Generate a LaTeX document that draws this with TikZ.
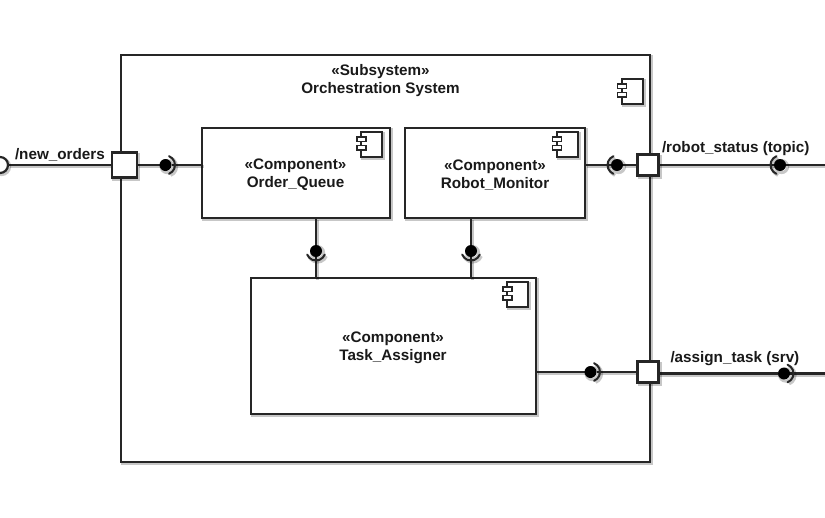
\documentclass[tikz,border=0pt]{standalone}
\usepackage{fontspec}
\setmainfont{Liberation Sans}
\tikzset{
  x=1pt,y=-1pt,
  shd/.style={preaction={draw=black,draw opacity=.22,fill=none,line width=3pt,transform canvas={shift={(1.6pt,-1.6pt)}}}},
  boxn/.style={shd,draw=black!85,fill=white,line width=2.2pt,inner sep=0pt,outer sep=0pt},
  portn/.style={shd,draw=black!85,fill=white,line width=2.2pt,inner sep=0pt,outer sep=0pt},
  ball/.style={shd,circle,fill=black,inner sep=0pt,outer sep=0pt,minimum size=12pt},
  anchorport/.style={inner sep=0pt,outer sep=0pt},
  anchorball/.style={circle,inner sep=0pt,outer sep=0pt,minimum size=12pt},
  lolly/.style={shd,circle,draw=black!85,fill=white,line width=2.2pt,inner sep=0pt,outer sep=0pt,minimum size=16pt},
  conn/.style={shd,draw=black!85,line width=2.2pt},
  sockarc/.style={shd,draw=black!85,line width=2pt,line cap=round},
  iconb/.style={shd,draw=black!85,fill=white,line width=2pt},
  icont/.style={draw=black!85,fill=white,line width=1.5pt},
  txt/.style={inner sep=0pt,outer sep=0pt,align=center,font=\fontsize{15.25}{18}\selectfont\bfseries,text=black!90},
}
\newcommand{\compicon}[2]{%
  \draw[iconb] (#1,#2) rectangle ++(21,25);
  \draw[icont] (#1-4,#2+5) rectangle ++(9,4.5);
  \draw[icont] (#1-4,#2+13.5) rectangle ++(9,4.5);
}
\newcommand{\sockat}[3]{%
  \draw[sockarc] ([shift={(#2:9.5pt)}]#1.center) arc[start angle=#2,end angle=#3,radius=9.5pt];
}
\begin{document}
\begin{tikzpicture}
\path[use as bounding box,fill=white] (0,0) rectangle (825,517);

\node[boxn,minimum width=529pt,minimum height=407pt] (sys) at (385.5,258.5) {};
\node[txt] (systext) at (380.5,80.5) {«Subsystem»\\Orchestration System};
\compicon{621.5}{79}

\node[boxn,minimum width=188pt,minimum height=90pt] (oq) at (296,173) {};
\node[boxn,minimum width=180pt,minimum height=90pt] (rm) at (495,173) {};
\node[boxn,minimum width=285pt,minimum height=136pt] (ta) at (393.5,346) {};
\node[txt] (oqt) at (295.5,175) {«Component»\\Order\_Queue};
\node[txt] (rmt) at (495,175) {«Component»\\Robot\_Monitor};
\node[txt] (tat) at (393,348) {«Component»\\Task\_Assigner};
\compicon{361}{132}
\compicon{556.5}{132}
\compicon{507}{282}

\coordinate (outr) at (825,165);
\coordinate (outa) at (825,373.5);
\coordinate (oqb) at (316,218);
\coordinate (rmb) at (471,218);

% invisible anchors, so that the connectors end on named nodes beneath the symbols
\node[anchorball] (b1) at (165.5,165) {};
\node[anchorball] (b2) at (617,165) {};
\node[anchorball] (b3) at (780,165) {};
\node[anchorball] (b4) at (316,251) {};
\node[anchorball] (b5) at (471,251) {};
\node[anchorball] (b6) at (590.5,372) {};
\node[anchorball] (b7) at (784,373.5) {};
\node[anchorport,minimum size=25pt] (pn) at (124.5,165) {};
\node[anchorport,minimum size=21pt] (pr) at (648,165) {};
\node[anchorport,minimum size=21pt] (pa) at (648,372) {};
\node[anchorball,minimum size=16pt] (lol) at (0,165) {};

\draw[conn] (lol) -- (pn);
\draw[conn] (pn) -- (b1);
\draw[conn] (b1) -- (b1 -| oq.west);
\draw[conn] (b2) -- (b2 -| rm.east);
\draw[conn] (b2) -- (pr);
\draw[conn] (pr) -- (b3);
\draw[conn] (b3) -- (outr);
\draw[conn] (b4) -- (oqb);
\draw[conn] (b4) -- (b4 |- ta.north);
\draw[conn] (b5) -- (rmb);
\draw[conn] (b5) -- (b5 |- ta.north);
\draw[conn] (b6) -- (b6 -| ta.east);
\draw[conn] (b6) -- (pa);
\draw[conn] (pa.east |- b7) -- (b7);
\draw[conn] (b7) -- (outa);

\node[lolly] (lolv) at (lol) {};
\node[ball] (b1v) at (b1) {};
\node[ball] (b2v) at (b2) {};
\node[ball] (b3v) at (b3) {};
\node[ball] (b4v) at (b4) {};
\node[ball] (b5v) at (b5) {};
\node[ball] (b6v) at (b6) {};
\node[ball] (b7v) at (b7) {};
\node[portn,minimum size=25pt] (pnv) at (pn) {};
\node[portn,minimum size=21pt] (prv) at (pr) {};
\node[portn,minimum size=21pt] (pav) at (pa) {};

\sockat{b1}{-68}{68}
\sockat{b2}{112}{248}
\sockat{b3}{112}{248}
\sockat{b4}{202}{338}
\sockat{b5}{202}{338}
\sockat{b6}{-68}{68}
\sockat{b7}{-68}{68}

\node[txt,anchor=west] (ln) at (15,155) {/new\_orders};
\node[txt,anchor=west] (lr) at (662,149) {/robot\_status (topic)};
\node[txt,anchor=west] (la) at (670.5,358.5) {/assign\_task (srv)};
\end{tikzpicture}
\end{document}
